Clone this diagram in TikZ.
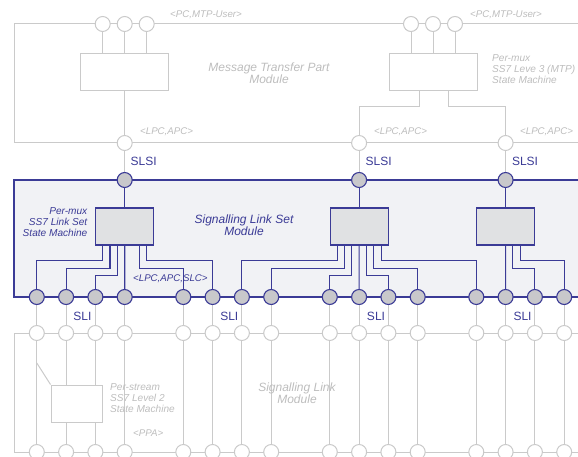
\documentclass[tikz,border=0pt]{standalone}
\usepackage{fontspec}
\setmainfont{Liberation Sans}
\pgfdeclarelayer{bgfill}
\pgfdeclarelayer{bglines}
\pgfsetlayers{bgfill,bglines,main}
\definecolor{lg}{HTML}{CACACA}
\definecolor{tg}{HTML}{BDBDBD}
\definecolor{nb}{HTML}{3B3B96}
\definecolor{cf}{HTML}{C8C8CB}
\definecolor{mf}{HTML}{F1F2F5}
\definecolor{bf}{HTML}{E0E1E3}
\begin{document}
\begin{tikzpicture}[x=1pt,y=-1pt,
  gc/.style={circle,draw=lg,fill=white,line width=1pt,minimum size=15pt,inner sep=0pt},
  bc/.style={circle,draw=nb,fill=cf,line width=1.1pt,minimum size=15pt,inner sep=0pt},
  gl/.style={draw=lg,line width=1pt},
  bl/.style={draw=nb,line width=1.1pt},
  gbox/.style={rectangle,draw=lg,fill=white,line width=1pt,inner sep=0pt},
  bbox/.style={rectangle,draw=nb,fill=bf,line width=1.1pt,inner sep=0pt,minimum width=58pt,minimum height=37pt},
  gsmall/.style={text=tg,font=\fontsize{9.7}{10.5}\selectfont\itshape,inner sep=0pt},
  bsmall/.style={text=nb,font=\fontsize{9.7}{10.5}\selectfont\itshape,inner sep=0pt},
  gmulti/.style={text=tg,font=\fontsize{10.1}{10.6}\selectfont\itshape,inner sep=0pt},
  bmulti/.style={text=nb,font=\fontsize{10.1}{10.6}\selectfont\itshape,inner sep=0pt},
  gbig/.style={text=tg,font=\fontsize{12}{12}\selectfont\itshape,inner sep=0pt,align=center},
  bbig/.style={text=nb,font=\fontsize{12}{12}\selectfont\itshape,inner sep=0pt,align=center},
  blab/.style={text=nb,font=\fontsize{12}{12}\selectfont,inner sep=0pt}
]
\useasboundingbox (0,0) rectangle (578,457);
\clip (0,0) rectangle (578,457);

% module frames
\begin{pgfonlayer}{bgfill}
  \fill[mf] (14,180) rectangle (600,297);
\end{pgfonlayer}
\begin{pgfonlayer}{bglines}
  \draw[gl] (600,24) -- (14,24) -- (14,143) -- (600,143);
  \draw[bl] (600,180) -- (14,180) -- (14,297) -- (600,297);
  \draw[gl] (600,333) -- (14,333) -- (14,452) -- (600,452);
\end{pgfonlayer}

% MTP module
\node[gc] (t1) at (102.7,24) {};
\node[gc] (t2) at (124.7,24) {};
\node[gc] (t3) at (146.7,24) {};
\node[gc] (u1) at (411,24) {};
\node[gc] (u2) at (433,24) {};
\node[gc] (u3) at (455,24) {};
\node[gbox,minimum width=88pt,minimum height=37pt] (mb1) at (124.7,72.5) {};
\node[gbox,minimum width=88pt,minimum height=37pt] (mb2) at (433,72.5) {};
\node[gc] (m3) at (124.7,143) {};
\node[gc] (m11) at (359.1,143) {};
\node[gc] (m16) at (505.6,143) {};

\begin{pgfonlayer}{bglines}
  \foreach \c/\b in {t1/mb1,t2/mb1,t3/mb1,u1/mb2,u2/mb2,u3/mb2}
    \draw[gl] (\c) -- (\c |- \b.north);
  \draw[gl] (mb1) -- (m3);
  \draw[gl] ([xshift=-14pt]mb2.south) -- ++(0,15) -| (m11);
  \draw[gl] ([xshift=15pt]mb2.south) -- ++(0,15) -| (m16);
\end{pgfonlayer}

\node[gsmall,anchor=west] (pc1) at (170,14.5) {<PC,MTP-User>};
\node[gsmall,anchor=west] (pc2) at (470,14.5) {<PC,MTP-User>};
\node[gbig] (mtp) at (269,73) {Message Transfer Part\\Module};
\node[gmulti,anchor=west,align=left] (mtpsm) at (492,69) {Per-mux\\SS7 Leve 3 (MTP)\\State Machine};
\node[gsmall,anchor=west] (la1) at (140,131.5) {<LPC,APC>};
\node[gsmall,anchor=west] (la2) at (374,132) {<LPC,APC>};
\node[gsmall,anchor=west] (la3) at (520,132) {<LPC,APC>};

% SLS module
\node[bc] (q3) at (124.7,180) {};
\node[bc] (q11) at (359.1,180) {};
\node[bc] (q16) at (505.6,180) {};
\node[bbox] (sb1) at (124.7,226.5) {};
\node[bbox] (sb2) at (359.1,226.5) {};
\node[bbox] (sb3) at (505.6,226.5) {};

\foreach \k in {0,1,2,3,5,6,7,8,10,11,12,13,15,16,17,18} {
  \node[bc] (b\k) at ({36.8+29.3*\k},297) {};
  \node[gc] (s\k) at ({36.8+29.3*\k},333) {};
  \node[gc] (p\k) at ({36.8+29.3*\k},452) {};
}

\begin{pgfonlayer}{bglines}
  \draw[gl] (m3) -- (q3);
  \draw[gl] (m11) -- (q11);
  \draw[gl] (m16) -- (q16);
  \draw[bl] (q3) -- (sb1);
  \draw[bl] (q11) -- (sb2);
  \draw[bl] (q16) -- (sb3);
  % box 1 wiring
  \draw[bl] ([xshift=-22pt]sb1.south) -- ++(0,15) -| (b0);
  \draw[bl] ([xshift=-14.7pt]sb1.south) -- ++(0,22.5) -| (b1);
  \draw[bl] ([xshift=-7.3pt]sb1.south) -- ++(0,30) -| (b2);
  \draw[bl] (sb1) -- (b3);
  \draw[bl] ([xshift=14.7pt]sb1.south) -- ++(0,22.5) -| (b5);
  \draw[bl] ([xshift=22pt]sb1.south) -- ++(0,15) -| (b6);
  % box 2 wiring
  \draw[bl] ([xshift=-22pt]sb2.south) -- ++(0,15) -| (b7);
  \draw[bl] ([xshift=-14.7pt]sb2.south) -- ++(0,22.5) -| (b8);
  \draw[bl] ([xshift=-7.3pt]sb2.south) -- ++(0,30) -| (b10);
  \draw[bl] (sb2) -- (b11);
  \draw[bl] ([xshift=7.3pt]sb2.south) -- ++(0,30) -| (b12);
  \draw[bl] ([xshift=14.7pt]sb2.south) -- ++(0,22.5) -| (b13);
  \draw[bl] ([xshift=22pt]sb2.south) -- ++(0,15) -| (b15);
  % box 3 wiring
  \draw[bl] (sb3) -- (b16);
  \draw[bl] ([xshift=7.3pt]sb3.south) -- ++(0,22.5) -| (b17);
  \draw[bl] ([xshift=14.7pt]sb3.south) -- ++(0,15) -| (b18);
  % SLI connectors
  \foreach \k in {0,1,2,3,5,6,7,8,10,11,12,13,15,16,17,18}
    \draw[gl] (b\k) -- (s\k);
  \foreach \k in {0,3,5,6,7,8,10,11,12,13,15,16,17,18}
    \draw[gl] (s\k) -- (p\k);
\end{pgfonlayer}

\node[blab,anchor=west] (slsi1) at (130.5,161) {SLSI};
\node[blab,anchor=west] (slsi2) at (365.5,161) {SLSI};
\node[blab,anchor=west] (slsi3) at (511.8,161) {SLSI};
\node[bmulti,anchor=east,align=right] (slssm) at (87.5,222) {Per-mux\\SS7 Link Set\\State Machine};
\node[bbig] (sls) at (244,225) {Signalling Link Set\\Module};
\node[bsmall,anchor=west] (lac) at (133,278.5) {<LPC,APC,SLC>};

\node[blab] (sli1) at (82.5,316.5) {SLI};
\node[blab] (sli2) at (229.3,316.5) {SLI};
\node[blab] (sli3) at (376,316.5) {SLI};
\node[blab] (sli4) at (522.5,316.5) {SLI};

% SL module
\node[gbox,minimum width=51pt,minimum height=37pt] (psb) at (76.5,403.5) {};
\coordinate (dg) at (36.8,363);
\begin{pgfonlayer}{bglines}
  \draw[gl] (s1) -- (s1 |- psb.north);
  \draw[gl] (psb.south -| p1) -- (p1);
  \draw[gl] (s2) -- (s2 |- psb.north);
  \draw[gl] (psb.south -| p2) -- (p2);
  \draw[gl] (dg) -- (psb.north west);
\end{pgfonlayer}
\node[gmulti,anchor=west,align=left] (pssm) at (110,398) {Per-stream\\SS7 Level 2\\State Machine};
\node[gsmall,anchor=west] (ppa) at (133,433) {<PPA>};
\node[gbig] (slm) at (297,393.5) {Signalling Link\\Module};
\end{tikzpicture}
\end{document}
